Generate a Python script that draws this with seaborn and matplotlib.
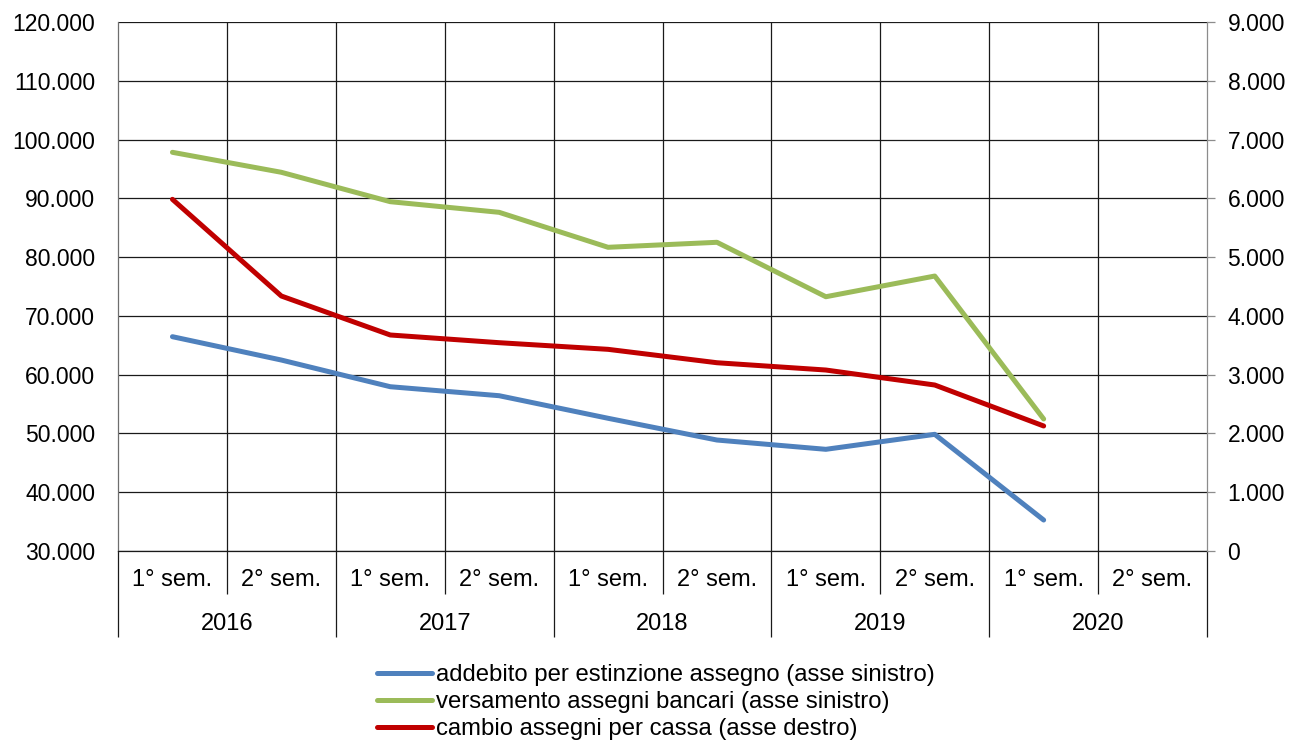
import numpy as np
import pandas as pd
import matplotlib
matplotlib.use("Agg")
import matplotlib.pyplot as plt
from matplotlib.ticker import FuncFormatter, FixedLocator
from matplotlib.lines import Line2D
import seaborn as sns

# --- data -----------------------------------------------------------------
semesters = ["1° sem.", "2° sem."] * 5
years = ["2016", "2017", "2018", "2019", "2020"]

addebito = [66460, 62490, 57950, 56420, 52580, 48880, 47300, 49850, 35270, np.nan]
versamento = [97830, 94430, 89430, 87620, 81670, 82520, 73260, 76780, 52460, np.nan]
cambio = [5983, 4338, 3675, 3544, 3431, 3203, 3079, 2824, 2127, np.nan]

labels = [
    "addebito per estinzione assegno (asse sinistro)",
    "versamento assegni bancari (asse sinistro)",
    "cambio assegni per cassa (asse destro)",
]
colors = ["#4F81BD", "#9BBB59", "#C00000"]

df = pd.DataFrame({
    "pos": np.arange(len(semesters)),
    "addebito": addebito,
    "versamento": versamento,
    "cambio": cambio,
})

# --- style ----------------------------------------------------------------
sns.set_theme(style="white")
plt.rcParams["font.family"] = ["Liberation Sans", "DejaVu Sans"]
plt.rcParams["text.color"] = "black"
plt.rcParams["xtick.labelcolor"] = "black"
plt.rcParams["ytick.labelcolor"] = "black"
FS_Y = 16.5
FS_X = 17
FS_LEG = 17.2

fig = plt.figure(figsize=(12.9, 7.41), dpi=100)
ax = fig.add_axes([118 / 1290, 1 - 551 / 741, (1207 - 118) / 1290, (551 - 22) / 741])
ax2 = ax.twinx()

lw = 3.6
sns.lineplot(data=df, x="pos", y="addebito", ax=ax, color=colors[0], lw=lw,
             legend=False, solid_capstyle="round")
sns.lineplot(data=df, x="pos", y="versamento", ax=ax, color=colors[1], lw=lw,
             legend=False, solid_capstyle="round")
sns.lineplot(data=df, x="pos", y="cambio", ax=ax2, color=colors[2], lw=lw,
             legend=False, solid_capstyle="round")

n = len(semesters)
ax.set_xlim(-0.5, n - 0.5)
ax.set_ylim(30000, 120000)
ax2.set_ylim(0, 9000)
ax.set_xlabel("")
ax.set_ylabel("")
ax2.set_ylabel("")

fmt = FuncFormatter(lambda v, p: f"{int(round(v)):,}".replace(",", "."))
ax.set_yticks(np.arange(30000, 120001, 10000))
ax2.set_yticks(np.arange(0, 9001, 1000))
ax.yaxis.set_major_formatter(fmt)
ax2.yaxis.set_major_formatter(fmt)

# horizontal grid on the left scale, vertical separators between semesters
ax.grid(False)
ax2.grid(False)
for t in ax.get_yticks():
    ax.axhline(t, color="#1a1a1a", lw=0.9, zorder=0.5)
for b in np.arange(0.5, n - 0.5, 1):
    ax.axvline(b, color="#1a1a1a", lw=0.9, zorder=0.5)

for s in ["top", "right"]:
    ax.spines[s].set_visible(False)
ax.spines["left"].set_color("#6e6e6e")
ax.spines["bottom"].set_color("#1a1a1a")
for s in ["top", "left", "bottom"]:
    ax2.spines[s].set_visible(False)
ax2.spines["right"].set_color("#8c8c8c")
for sp in list(ax.spines.values()) + list(ax2.spines.values()):
    sp.set_linewidth(0.9)

ax.tick_params(axis="y", left=False, length=0, labelsize=FS_Y, pad=16.5,
               labelcolor="black")
ax2.tick_params(axis="y", right=True, length=5.8, width=0.9, color="#8c8c8c",
                labelsize=FS_Y, pad=9, labelcolor="black")

# semester labels with short separators
ax.set_xticks(np.arange(n))
ax.set_xticklabels(semesters, fontsize=FS_X, color="black")
ax.xaxis.set_minor_locator(FixedLocator(np.arange(0.5, n - 0.5, 2)))
ax.tick_params(axis="x", which="major", bottom=False, length=0, pad=13)
ax.tick_params(axis="x", which="minor", bottom=True, length=31, width=0.9,
               color="#1a1a1a", direction="out")

# year labels with long separators
sec = ax.secondary_xaxis("bottom")
sec.set_xticks(np.arange(0.5, n, 2))
sec.set_xticklabels(years, fontsize=FS_X, color="black")
sec.xaxis.set_minor_locator(FixedLocator(np.arange(-0.5, n, 2)))
sec.tick_params(axis="x", which="major", bottom=False, length=0, pad=45)
sec.tick_params(axis="x", which="minor", bottom=True, length=62, width=0.9,
                color="#1a1a1a", direction="out")
sec.spines["bottom"].set_visible(False)

# legend below the chart
handles = [Line2D([0], [0], color=c, lw=lw, solid_capstyle="round") for c in colors]
leg = fig.legend(handles, labels, loc="upper left",
                 bbox_to_anchor=(377 / 1290, 1 - 664 / 741),
                 frameon=False, fontsize=FS_LEG, handlelength=2.3, handletextpad=0.17,
                 labelspacing=0.21, borderpad=0, borderaxespad=0)
for t in leg.get_texts():
    t.set_color("black")

fig.savefig("out.png", dpi=100, facecolor="white")
